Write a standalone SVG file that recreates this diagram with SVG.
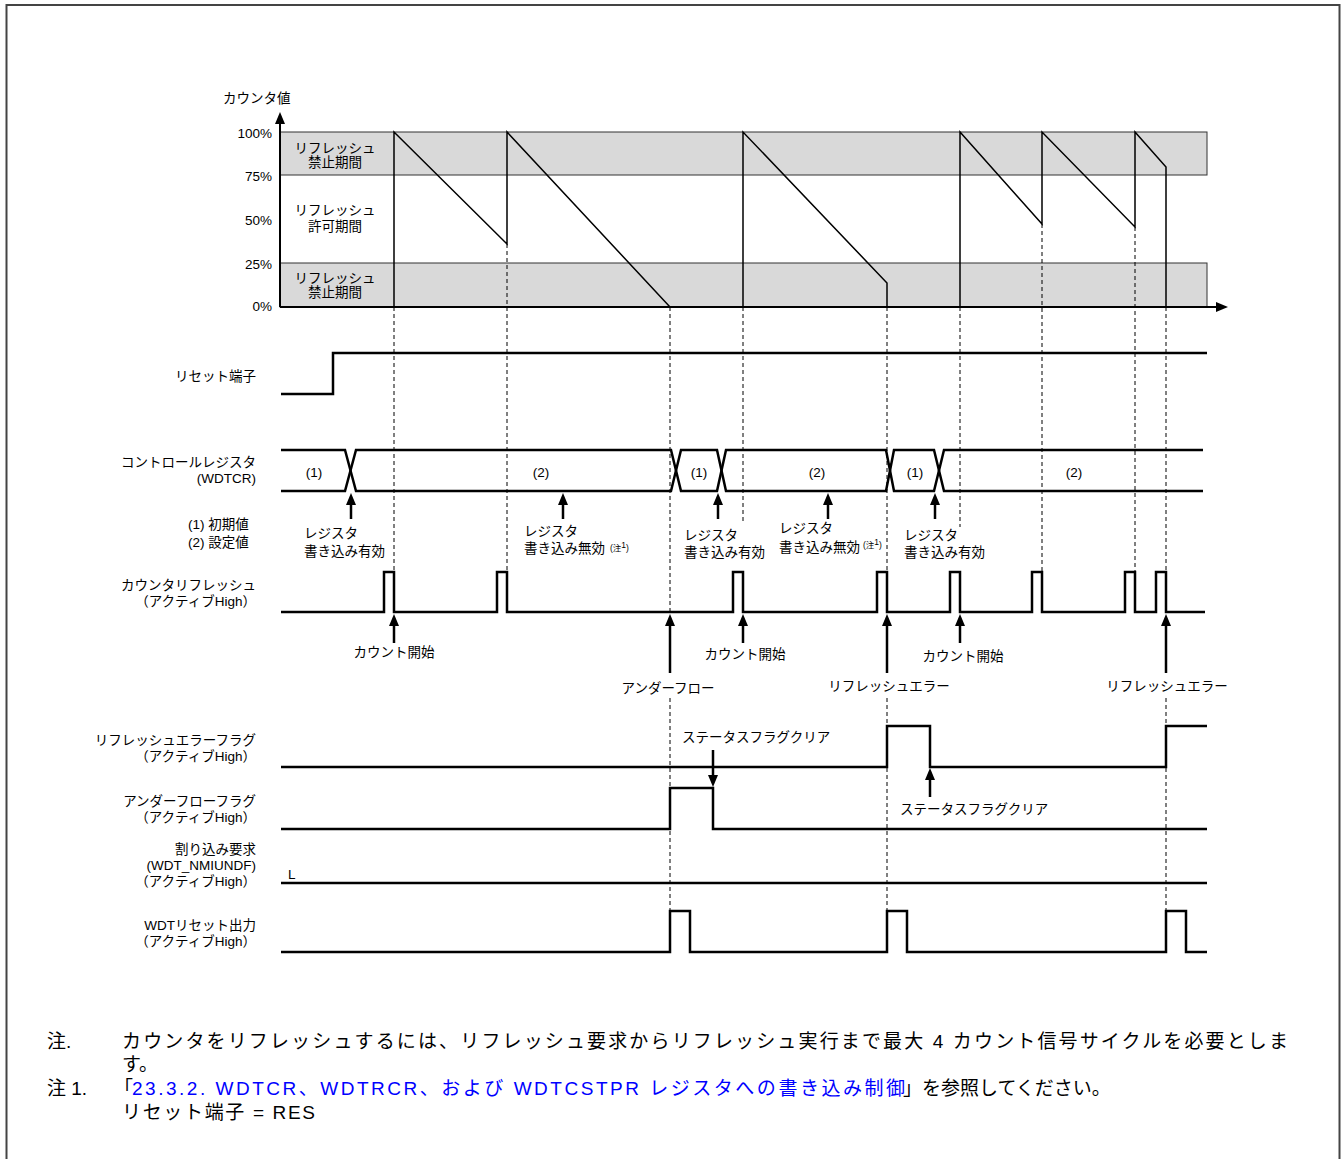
<svg xmlns="http://www.w3.org/2000/svg" width="1343" height="1159" viewBox="0 0 1343 1159">
<style>
.t{font-family:"Liberation Sans","Noto Sans CJK JP",sans-serif;font-size:13.5px;fill:#000}
.r{text-anchor:end}
.m{text-anchor:middle}
.s{font-family:"Liberation Sans","Noto Sans CJK JP",sans-serif;font-size:8.5px;fill:#000}
.n{font-family:"Liberation Sans","Noto Sans CJK JP",sans-serif;font-size:19px;fill:#000}
.lk{fill:#0000ff}
.sig{fill:none;stroke:#000;stroke-width:2.5}
.saw{fill:none;stroke:#000;stroke-width:1.5}
.dash{fill:none;stroke:#000;stroke-width:1;stroke-dasharray:4 3}
.band{fill:#d9d9d9;stroke:#333;stroke-width:1}
.arr{stroke:#000;stroke-width:2.5;marker-end:url(#ah)}
.ax{stroke:#000;stroke-width:2;marker-end:url(#ah)}
</style>
<defs>
<marker id="ah" viewBox="0 0 12 10" refX="4" refY="5" markerWidth="12" markerHeight="10" orient="auto" markerUnits="userSpaceOnUse"><path d="M0,0 L12,5 L0,10 z" fill="#000"/></marker>
</defs>
<rect x="6.5" y="5" width="1333" height="1200" fill="none" stroke="#444" stroke-width="2"/>

<g id="chart">
<rect class="band" x="280" y="132" width="927" height="43"/>
<rect class="band" x="280" y="263" width="927" height="44"/>
<line class="ax" x1="280" y1="307" x2="280" y2="120"/>
<line class="ax" x1="280" y1="307" x2="1220" y2="307"/>
<path class="saw" d="M394,307 V132 L507,244 V132 L670,307 M743,307 V132 L887,283 V307 M960,307 V132 L1042,224 V132 L1135,227 V132 L1166,167 V307"/>
<text class="t" x="223" y="103">カウンタ値</text>
<text class="t r" x="272" y="138">100%</text>
<text class="t r" x="272" y="181">75%</text>
<text class="t r" x="272" y="225">50%</text>
<text class="t r" x="272" y="269">25%</text>
<text class="t r" x="272" y="311">0%</text>
<text class="t m" x="335" y="153">リフレッシュ</text>
<text class="t m" x="335" y="167">禁止期間</text>
<text class="t m" x="335" y="215">リフレッシュ</text>
<text class="t m" x="335" y="231">許可期間</text>
<text class="t m" x="335" y="283">リフレッシュ</text>
<text class="t m" x="335" y="297">禁止期間</text>
</g>

<g id="reset-pin">
<text class="t r" x="256" y="381">リセット端子</text>
<path class="sig" d="M281,394 H333 V353 H1207"/>
</g>

<g id="wdtcr">
<text class="t r" x="256" y="467">コントロールレジスタ</text>
<text class="t r" x="256" y="483">(WDTCR)</text>
<path class="sig" d="M281,450 H345 L356,491 H671 L681,450 H717 L726,491 H886 L894,450 H934 L944,491 H1203"/>
<path class="sig" d="M281,491 H345 L356,450 H671 L681,491 H717 L726,450 H886 L894,491 H934 L944,450 H1203"/>
<text class="t m" x="314" y="477">(1)</text>
<text class="t m" x="541" y="477">(2)</text>
<text class="t m" x="699" y="477">(1)</text>
<text class="t m" x="817" y="477">(2)</text>
<text class="t m" x="915" y="477">(1)</text>
<text class="t m" x="1074" y="477">(2)</text>
<text class="t" x="188" y="529">(1) 初期値</text>
<text class="t" x="188" y="547">(2) 設定値</text>
</g>

<g id="counter-refresh">
<text class="t r" x="256" y="590">カウンタリフレッシュ</text>
<text class="t r" x="256" y="606">（アクティブHigh）</text>
<path class="sig" d="M281,612 H384 V572 H394 V612 H497 V572 H507 V612 H733 V572 H743 V612 H877 V572 H887 V612 H950 V572 H960 V612 H1032 V572 H1042 V612 H1125 V572 H1135 V612 H1156 V572 H1166 V612 H1205"/>
</g>

<g id="refresh-error-flag">
<text class="t r" x="256" y="745">リフレッシュエラーフラグ</text>
<text class="t r" x="256" y="761">（アクティブHigh）</text>
<path class="sig" d="M281,767 H887 V726 H930 V767 H1166 V726 H1207"/>
</g>

<g id="underflow-flag">
<text class="t r" x="256" y="806">アンダーフローフラグ</text>
<text class="t r" x="256" y="822">（アクティブHigh）</text>
<path class="sig" d="M281,829 H670 V788 H713 V829 H1207"/>
</g>

<g id="interrupt">
<text class="t r" x="256" y="854">割り込み要求</text>
<text class="t r" x="256" y="870">(WDT_NMIUNDF)</text>
<text class="t r" x="256" y="886">（アクティブHigh）</text>
<text class="t" x="288" y="879">L</text>
<path class="sig" d="M281,883 H1207"/>
</g>

<g id="wdt-reset">
<text class="t r" x="256" y="930">WDTリセット出力</text>
<text class="t r" x="256" y="946">（アクティブHigh）</text>
<path class="sig" d="M281,952 H670 V911 H690 V952 H887 V911 H907 V952 H1166 V911 H1186 V952 H1207"/>
</g>

<g id="connectors">
<path class="dash" d="M394,307 V572 M507,244 V572 M670,307 V612 M670,698 V911 M743,307 V521 M887,307 V612 M887,698 V911 M960,307 V527 M1042,224 V572 M1135,227 V572 M1166,307 V612 M1166,698 V911"/>
<line class="arr" x1="351" y1="519" x2="351" y2="501"/>
<line class="arr" x1="563" y1="519" x2="563" y2="501"/>
<line class="arr" x1="718" y1="519" x2="718" y2="501"/>
<line class="arr" x1="828" y1="519" x2="828" y2="501"/>
<line class="arr" x1="935" y1="519" x2="935" y2="501"/>
<line class="arr" x1="394" y1="643" x2="394" y2="622"/>
<line class="arr" x1="743" y1="643" x2="743" y2="622"/>
<line class="arr" x1="960" y1="643" x2="960" y2="622"/>
<line class="arr" x1="670" y1="673" x2="670" y2="622"/>
<line class="arr" x1="887" y1="673" x2="887" y2="622"/>
<line class="arr" x1="1166" y1="673" x2="1166" y2="622"/>
<line class="arr" x1="713" y1="750" x2="713" y2="779"/>
<line class="arr" x1="930" y1="797" x2="930" y2="776"/>
</g>

<g id="annotations">
<text class="t" x="304" y="538">レジスタ</text>
<text class="t" x="304" y="556">書き込み有効</text>
<text class="t" x="524" y="536">レジスタ</text>
<text class="t" x="524" y="553">書き込み無効</text>
<text class="s" x="610" y="551">(注<tspan dy="-3">1</tspan><tspan dy="3">)</tspan></text>
<text class="t" x="684" y="540">レジスタ</text>
<text class="t" x="684" y="557">書き込み有効</text>
<text class="t" x="779" y="533">レジスタ</text>
<text class="t" x="779" y="552">書き込み無効</text>
<text class="s" x="863" y="548">(注<tspan dy="-3">1</tspan><tspan dy="3">)</tspan></text>
<text class="t" x="904" y="540">レジスタ</text>
<text class="t" x="904" y="557">書き込み有効</text>
<text class="t m" x="394" y="657">カウント開始</text>
<text class="t m" x="745" y="659">カウント開始</text>
<text class="t m" x="963" y="661">カウント開始</text>
<text class="t m" x="668" y="693">アンダーフロー</text>
<text class="t m" x="889" y="691">リフレッシュエラー</text>
<text class="t m" x="1167" y="691">リフレッシュエラー</text>
<text class="t" x="682" y="742">ステータスフラグクリア</text>
<text class="t" x="900" y="814">ステータスフラグクリア</text>
</g>

<g id="notes">
<text class="n" x="47" y="1048">注.</text>
<text class="n" x="122" y="1048" textLength="1166" lengthAdjust="spacing">カウンタをリフレッシュするには、リフレッシュ要求からリフレッシュ実行まで最大 4 カウント信号サイクルを必要としま</text>
<text class="n" x="122" y="1071">す。</text>
<text class="n" x="47" y="1095">注 1.</text>
<text class="n" x="114" y="1095">「</text>
<text class="n lk" x="132" y="1095" textLength="773" lengthAdjust="spacing">23.3.2. WDTCR、WDTRCR、および WDTCSTPR レジスタへの書き込み制御</text>
<text class="n" x="903" y="1095">」を参照してください。</text>
<text class="n" x="122" y="1119" textLength="193" lengthAdjust="spacing">リセット端子 = RES</text>
</g>
</svg>
